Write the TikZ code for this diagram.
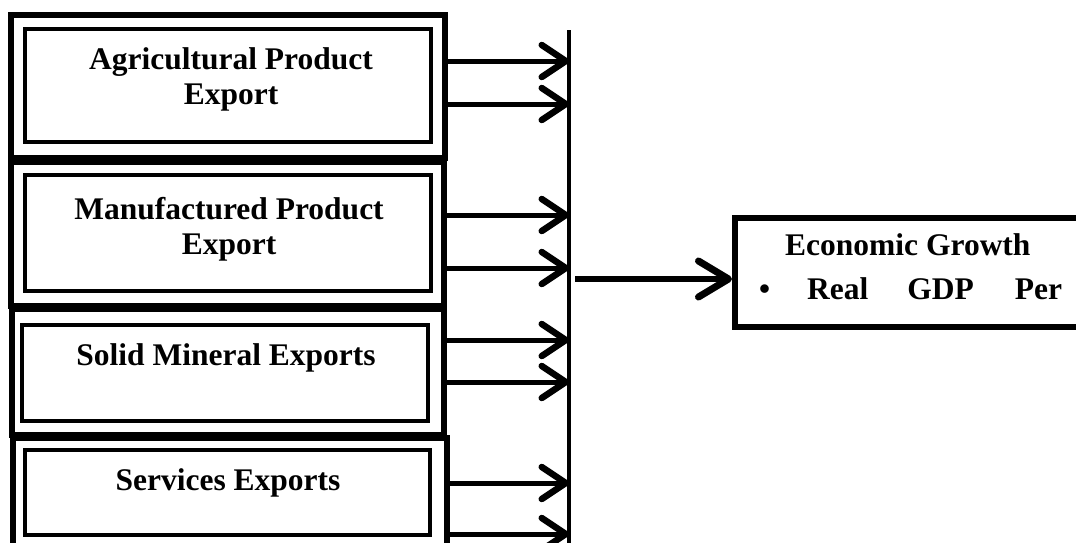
\documentclass[tikz,border=0pt]{standalone}
\usepackage{fontspec}
\setmainfont{Liberation Serif}
\usetikzlibrary{arrows.meta}
\begin{document}
\begin{tikzpicture}[x=1pt,y=-1pt,
  outerbox/.style={draw,line width=6pt,rectangle,inner sep=0pt},
  innerbox/.style={draw,line width=4.5pt,rectangle,inner sep=0pt},
  lbl/.style={font=\fontsize{31.5}{35}\selectfont\bfseries,align=center,inner sep=0pt,anchor=base},
  arr/.style={line width=5pt,-{Straight Barb[length=24pt,width=32pt,line width=6.5pt,round]}},
  bigarr/.style={line width=6pt,-{Straight Barb[length=30pt,width=36pt,line width=7pt,round]}},
  bus/.style={line width=4pt}]
\useasboundingbox (0,0) rectangle (1076,542);
\begin{scope}
\clip (0,0) rectangle (1076,542);
% outer boxes
\node[outerbox,minimum width=434pt,minimum height=143pt] (o1) at (228,86.5) {};
\node[outerbox,minimum width=433pt,minimum height=144pt] (o2) at (227.5,234) {};
\node[outerbox,minimum width=432pt,minimum height=126pt] (o3) at (228,372) {};
\node[outerbox,minimum width=434pt,minimum height=122pt] (o4) at (230,499) {};
% inner boxes
\node[innerbox,minimum width=406pt,minimum height=113pt] (i1) at (228,85.5) {};
\node[innerbox,minimum width=406pt,minimum height=116pt] (i2) at (228,233) {};
\node[innerbox,minimum width=406pt,minimum height=96pt] (i3) at (225,373) {};
\node[innerbox,minimum width=405pt,minimum height=85pt] (i4) at (227.5,492.5) {};
% labels (base = last line)
\node[lbl] (t1) at (231,104) {Agricultural Product\\Export};
\node[lbl] (t2) at (229,254) {Manufactured Product\\Export};
\node[lbl] (t3) at (226,365) {Solid Mineral Exports};
\node[lbl] (t4) at (228,490) {Services Exports};
% bus line
\coordinate (bt) at (569,30);
\coordinate (bb) at (569,548);
\draw[bus] (bt) -- (bb);
% arrow rows
\foreach \n/\y in {a1/61,a2/104,a3/215,a4/268,a5/340,a6/382,a7/483,a8/534}
  \coordinate (\n) at (0,\y);
\draw[arr] (o1.east |- a1) -- (bt |- a1);
\draw[arr] (o1.east |- a2) -- (bt |- a2);
\draw[arr] (o2.east |- a3) -- (bt |- a3);
\draw[arr] (o2.east |- a4) -- (bt |- a4);
\draw[arr] (o3.east |- a5) -- (bt |- a5);
\draw[arr] (o3.east |- a6) -- (bt |- a6);
\draw[arr] (o4.east |- a7) -- (bt |- a7);
\draw[arr] (o4.east |- a8) -- (bt |- a8);
% economic growth box
\node[outerbox,minimum width=375pt,minimum height=109pt] (eg) at (922.5,272.5) {};
\node[lbl,anchor=base west] (eg1) at (785,255) {Economic Growth};
\node[lbl,anchor=base west] (eg2) at (759,299) {\textbullet\hspace{37pt}Real\hspace{39pt}GDP\hspace{41pt}Per};
\coordinate (m) at (0,279);
\draw[bigarr] ([xshift=6pt]bt |- m) -- (eg.west |- m);
\end{scope}
\end{tikzpicture}
\end{document}
